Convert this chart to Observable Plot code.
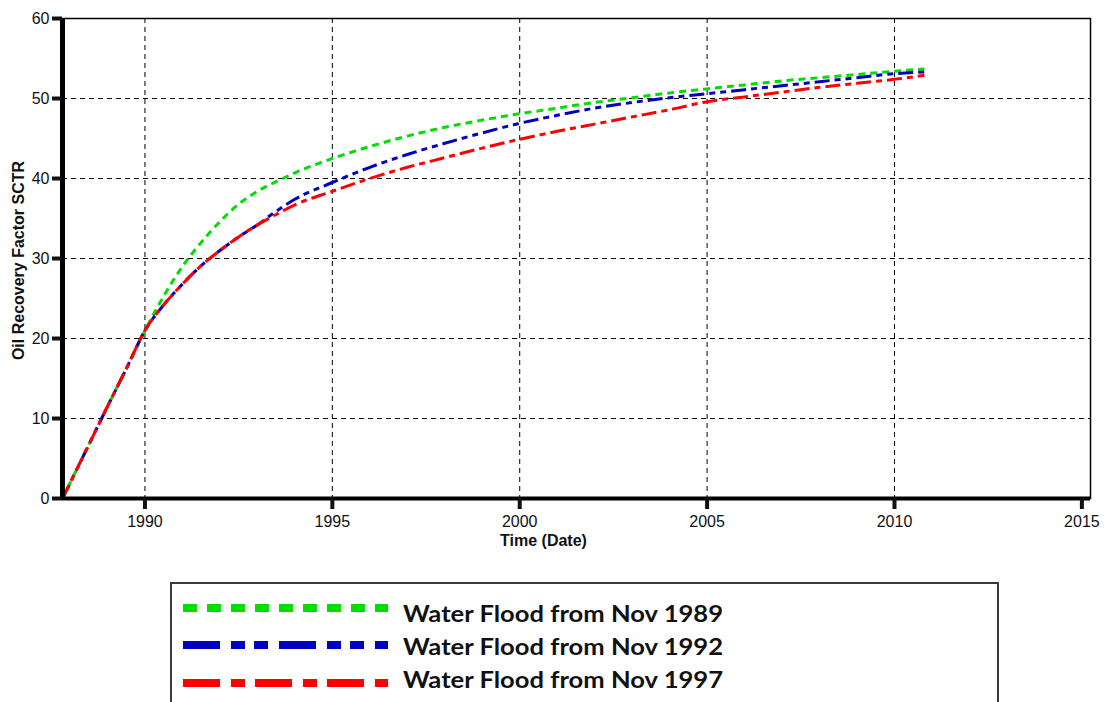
<!DOCTYPE html>
<html>
<head>
<meta charset="utf-8">
<script src="https://cdn.jsdelivr.net/npm/d3@7"></script>
<script src="https://cdn.jsdelivr.net/npm/@observablehq/plot@0.6"></script>
<style>
  html, body { margin: 0; padding: 0; background: #fff; overflow: hidden; }
  #wrap { position: relative; width: 1105px; height: 702px; }
  #legend { position: absolute; left: 0; top: 570px; }
</style>
</head>
<body>
<div id="wrap">
  <div id="chart"></div>
  <svg id="legend" width="1105" height="132"></svg>
</div>
<script>
// ---- data ----
const years = [1987.8, 1988.5, 1989, 1989.5, 1990, 1990.5, 1991, 1991.5, 1992, 1992.5, 1993, 1993.5, 1994, 1995, 1996, 1997, 1998, 1999, 2000, 2001, 2002, 2003, 2004, 2005, 2006, 2007, 2008, 2009, 2010, 2010.8];
const flood1989 = [0, 6.7, 11.5, 16.2, 21, 25.3, 29, 32, 34.6, 36.8, 38.4, 39.6, 40.7, 42.5, 44, 45.3, 46.4, 47.3, 48.1, 48.8, 49.5, 50.1, 50.7, 51.2, 51.7, 52.2, 52.6, 53.0, 53.4, 53.7];
const flood1992 = [0, 6.7, 11.5, 16.2, 21, 24.2, 26.8, 29.1, 31.0, 32.7, 34.2, 35.9, 37.4, 39.5, 41.4, 43, 44.4, 45.7, 46.9, 47.9, 48.8, 49.5, 50.1, 50.6, 51.1, 51.6, 52.1, 52.6, 53.1, 53.3];
const flood1997 = [0, 6.7, 11.5, 16.2, 21, 24.2, 26.8, 29.1, 31.0, 32.7, 34.2, 35.5, 36.7, 38.4, 40, 41.4, 42.6, 43.8, 44.9, 45.9, 46.8, 47.7, 48.6, 49.6, 50.2, 50.8, 51.4, 51.9, 52.4, 52.9];
const seriesNames = ["Water Flood from Nov 1989", "Water Flood from Nov 1992", "Water Flood from Nov 1997"];
const xTicks = [1990, 1995, 2000, 2005, 2010, 2015];
const yTicks = [0, 10, 20, 30, 40, 50, 60];
const xDomain = [1987.8, 2015.23];
const yDomain = [0, 60];

const colors = ["#00dd00", "#0000c0", "#ff0000"];
const dashes = ["7,5", "15,5,6,5,6,5", "15,5,6,5"];
const legendDashes = ["14,10", "37,11,14,9,14,11", "37,11,14,10"];
const seriesValues = [flood1989, flood1992, flood1997];

const rows = [];
seriesValues.forEach((vals, s) => {
  years.forEach((t, i) => rows.push({ series: seriesNames[s], t, v: vals[i] }));
});

const lineMarks = seriesNames.map((name, s) =>
  Plot.line(rows.filter(r => r.series === name), {
    x: "t", y: "v", stroke: colors[s], strokeWidth: 3,
    strokeDasharray: dashes[s], strokeLinecap: "butt", curve: "monotone-x"
  })
);

const chart = Plot.plot({
  width: 1105, height: 570,
  marginLeft: 62, marginRight: 15, marginTop: 18, marginBottom: 72,
  x: { domain: xDomain },
  y: { domain: yDomain },
  style: { fontFamily: "'Liberation Sans', Arial, sans-serif", fontSize: "16px", background: "white", color: "#111" },
  marks: [
    Plot.ruleX(xTicks.filter(d => d < 2015), { stroke: "black", strokeWidth: 1, strokeDasharray: "5,4" }),
    Plot.ruleY(yTicks.filter(d => d > 0 && d < 60), { stroke: "black", strokeWidth: 1, strokeDasharray: "5,4" }),
    Plot.frame({ stroke: "black", strokeWidth: 1.5 }),
    ...lineMarks,
    Plot.ruleX([xDomain[0]], { stroke: "black", strokeWidth: 5 }),
    Plot.ruleY([0], { stroke: "black", strokeWidth: 4 }),
    Plot.axisX({ ticks: xTicks, tickFormat: "d", tickSize: 11, tickPadding: 6, strokeWidth: 4, label: null, fontSize: 16 }),
    Plot.axisY({ ticks: yTicks, tickSize: 10, tickPadding: 3, strokeWidth: 4, label: null, fontSize: 16 }),
    Plot.text(["Time (Date)"], { frameAnchor: "bottom", dx: -33, dy: 47, textAnchor: "middle", fontWeight: "bold", fontSize: 16, fill: "#111" }),
    Plot.text(["Oil Recovery Factor SCTR"], { frameAnchor: "left", dx: -44, dy: 2, rotate: -90, textAnchor: "middle", fontWeight: "bold", fontSize: 16, fill: "#111" })
  ]
});
document.getElementById("chart").appendChild(chart);

// ---- legend ----
const lg = d3.select("#legend");
lg.append("rect").attr("x", 171).attr("y", 13).attr("width", 827).attr("height", 140)
  .attr("fill", "white").attr("stroke", "#3a3a3a").attr("stroke-width", 2);
const lineY = [38, 75, 113];
const textY = [44, 77, 110];
seriesNames.forEach((name, s) => {
  lg.append("line").attr("x1", 183).attr("x2", 388).attr("y1", lineY[s]).attr("y2", lineY[s])
    .attr("stroke", colors[s]).attr("stroke-width", 8).attr("stroke-dasharray", legendDashes[s]);
  lg.append("text").attr("x", 403).attr("y", textY[s]).attr("dy", "0.36em")
    .attr("font-family", "Lato, 'Open Sans', sans-serif").attr("font-weight", "bold")
    .attr("font-size", 23).attr("fill", "#111")
    .attr("textLength", 320).attr("lengthAdjust", "spacingAndGlyphs")
    .text(name);
});
</script>
</body>
</html>
